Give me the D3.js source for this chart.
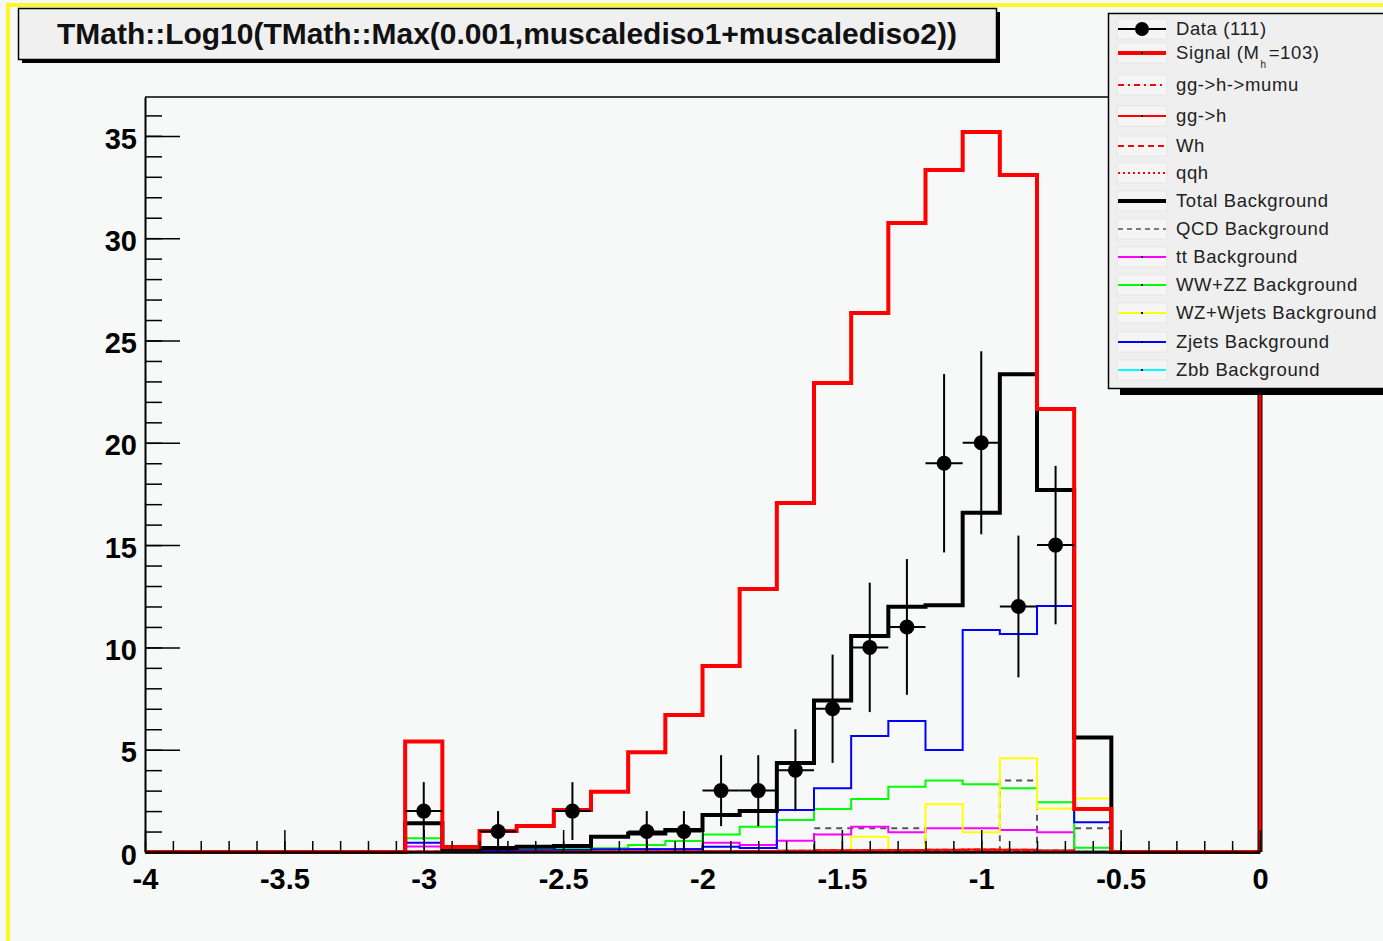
<!DOCTYPE html>
<html>
<head>
<meta charset="utf-8">
<script src="https://cdn.jsdelivr.net/npm/d3@7"></script>
<style>
  body { margin: 0; background: #f6f9f7; }
  svg { display: block; }
</style>
</head>
<body>
<svg id="canvas" width="1383" height="941"></svg>
<script>
// Histogram binning: 30 bins from -4 to 0
const binLow = -4;
const binHigh = 0;
const nBins = 30;

// Observed events per bin
const dataCounts = [0,0,0,0,0,0,0,2,0,1,0,2,0,1,1,3,3,4,7,10,11,19,20,12,15,0,0,0,0,0];

// Signal (Mh = 103)
const signal = [0,0,0,0,0,0,0,5.4,0.25,1.03,1.27,2.05,2.95,4.87,6.7,9.09,12.85,17.06,22.92,26.34,30.74,33.33,35.19,33.09,21.65,2.1,0,0,0,0];

// Signal production modes
const ggHmumu = [0,0,0,0,0,0,0,0.02,0,0,0.01,0.01,0.02,0.02,0.03,0.04,0.05,0.06,0.08,0.09,0.1,0.11,0.12,0.11,0.07,0.01,0,0,0,0];
const ggH     = [0,0,0,0,0,0,0,0.02,0,0,0.01,0.01,0.02,0.02,0.03,0.04,0.05,0.06,0.08,0.09,0.1,0.11,0.12,0.11,0.07,0.01,0,0,0,0];
const wh      = [0,0,0,0,0,0,0,0.01,0,0,0,0.01,0.01,0.01,0.01,0.02,0.02,0.03,0.04,0.04,0.05,0.05,0.06,0.05,0.03,0,0,0,0,0];
const qqh     = [0,0,0,0,0,0,0,0.01,0,0,0,0.01,0.01,0.01,0.01,0.02,0.02,0.03,0.04,0.04,0.05,0.05,0.06,0.05,0.03,0,0,0,0,0];

// Backgrounds
const totalBkg = [0,0,0,0,0,0,0,1.4,0.15,0.2,0.26,0.29,0.75,0.91,1.08,1.81,2.0,4.35,7.4,10.56,11.99,12.06,16.58,23.35,17.69,5.6,0,0,0,0];
const qcdBkg   = [0,0,0,0,0,0,0,0,0,0,0,0,0,0,0,0,0,0,1.16,1.16,1.16,0,0,3.49,0,1.16,0,0,0,0];
const ttBkg    = [0,0,0,0,0,0,0,0.27,0,0.05,0.05,0.08,0.15,0.15,0.15,0.45,0.34,0.55,0.86,1.24,0.96,1.16,1.16,1.08,0.96,0,0,0,0,0];
const wwzzBkg  = [0,0,0,0,0,0,0,0.67,0.05,0.12,0.12,0.18,0.18,0.34,0.54,0.86,1.24,1.56,2.1,2.59,3.19,3.49,3.31,3.11,2.43,0.21,0,0,0,0];
const wzWjBkg  = [0,0,0,0,0,0,0,0,0,0,0,0,0,0,0,0,0,0,0,0.75,0,2.33,0.96,4.58,2.13,2.62,0,0,0,0];
const zjetsBkg = [0,0,0,0,0,0,0,0.45,0.05,0.05,0.08,0.1,0.13,0.13,0.13,0.26,0.2,2.05,3.11,5.67,6.4,4.99,10.85,10.66,12.02,1.45,0,0,0,0];
const zbbBkg   = [0,0,0,0,0,0,0,0.03,0,0,0,0.03,0.04,0.04,0.04,0.05,0.05,0.06,0.06,0.06,0.06,0.07,0.07,0.1,0.06,0.05,0,0,0,0];

// Axis tick labels
const xMajorTicks = [-4, -3.5, -3, -2.5, -2, -1.5, -1, -0.5, 0];
const yMajorTicks = [0, 5, 10, 15, 20, 25, 30, 35];

const titleText = "TMath::Log10(TMath::Max(0.001,muscalediso1+muscalediso2))";

const svg = d3.select("#canvas");
const FONT = "'Liberation Sans', Arial, Helvetica, sans-serif";

const x = d3.scaleLinear().domain([binLow, binHigh]).range([145, 1260]);
const y = d3.scaleLinear().domain([0, 36.9]).range([852, 97]);
const binWidth = (binHigh - binLow) / nBins;
const edges = d3.range(nBins + 1).map(i => binLow + i * binWidth);

// Canvas background and the yellow pad border
svg.append("rect").attr("width", 1383).attr("height", 941).attr("fill", "#f6f9f7");
svg.append("line").attr("x1", 6).attr("x2", 1383).attr("y1", 5).attr("y2", 5)
  .attr("stroke", "#f8f82a").attr("stroke-width", 4);
svg.append("line").attr("x1", 8).attr("x2", 8).attr("y1", 3).attr("y2", 941)
  .attr("stroke", "#f8f82a").attr("stroke-width", 4);

// Histogram outline path (ROOT "HIST" style)
function stepPath(vals) {
  const p = d3.path();
  p.moveTo(x(edges[0]), y(0));
  vals.forEach((v, i) => {
    p.lineTo(x(edges[i]), y(v));
    p.lineTo(x(edges[i + 1]), y(v));
  });
  p.lineTo(x(edges[nBins]), y(0));
  return p.toString();
}

const plot = svg.append("g");

function drawHist(vals, color, width, dash) {
  plot.append("path")
    .attr("d", stepPath(vals))
    .attr("fill", "none")
    .attr("stroke", color)
    .attr("stroke-width", width)
    .attr("stroke-dasharray", dash || null)
    .attr("stroke-linejoin", "miter");
}

drawHist(zbbBkg, "#00ffff", 2);
drawHist(qcdBkg, "#555555", 2, "6,5");
drawHist(ttBkg, "#ff00ff", 2);
drawHist(wwzzBkg, "#00ff00", 2);
drawHist(wzWjBkg, "#ffff00", 2);
drawHist(zjetsBkg, "#0000ff", 2);
drawHist(ggHmumu, "#ff0000", 2, "6,4,2,4");
drawHist(ggH, "#ff0000", 2);
drawHist(wh, "#ff0000", 2, "6,4");
drawHist(qqh, "#ff0000", 2, "2,3");
drawHist(totalBkg, "#000000", 4);
drawHist(signal, "#ff0000", 4);

// Data points with Poisson error bars
const dataPts = dataCounts.map((n, i) => ({ n, i })).filter(d => d.n > 0);
const dg = plot.append("g");
dataPts.forEach(d => {
  const cx = x((edges[d.i] + edges[d.i + 1]) / 2);
  const err = Math.sqrt(d.n);
  dg.append("line").attr("x1", cx).attr("x2", cx)
    .attr("y1", y(d.n - err)).attr("y2", y(d.n + err))
    .attr("stroke", "#000").attr("stroke-width", 2);
  dg.append("line").attr("x1", x(edges[d.i])).attr("x2", x(edges[d.i + 1]))
    .attr("y1", y(d.n)).attr("y2", y(d.n))
    .attr("stroke", "#000").attr("stroke-width", 2);
  dg.append("circle").attr("cx", cx).attr("cy", y(d.n)).attr("r", 7.5).attr("fill", "#000");
});

// Frame
svg.append("line").attr("x1", 145).attr("x2", 1260).attr("y1", 97).attr("y2", 97)
  .attr("stroke", "#000").attr("stroke-width", 1.5);
svg.append("line").attr("x1", 1260).attr("x2", 1260).attr("y1", 97).attr("y2", 852)
  .attr("stroke", "#000").attr("stroke-width", 5);
svg.append("line").attr("x1", 1260).attr("x2", 1260).attr("y1", 97).attr("y2", 852)
  .attr("stroke", "#ff0000").attr("stroke-width", 3);

// X axis: minor ticks every 0.1, major every 0.5
const xMinor = d3.range(0, 41).map(i => binLow + i * 0.1);
const xMinorAxis = d3.axisBottom(x).tickValues(xMinor).tickSizeInner(-11).tickSizeOuter(0).tickFormat("");
const gxm = svg.append("g").attr("transform", "translate(0,852)").call(xMinorAxis);
gxm.select(".domain").remove();
const xAxis = d3.axisBottom(x).tickValues(xMajorTicks).tickSizeInner(-22).tickSizeOuter(0)
  .tickPadding(16).tickFormat(d => String(d));
const gx = svg.append("g").attr("transform", "translate(0,852)").call(xAxis);
gx.select(".domain").attr("stroke-width", 2.5);
[gx, gxm].forEach(g => g.selectAll(".tick line").attr("stroke", "#000").attr("stroke-width", 1.5));
gx.selectAll(".tick text")
  .attr("font-family", FONT).attr("font-weight", "bold").attr("font-size", 29).attr("fill", "#000");

// Y axis: minor ticks every 1, major every 5
const yMinor = d3.range(0, 37);
const yMinorAxis = d3.axisLeft(y).tickValues(yMinor).tickSizeInner(-17).tickSizeOuter(0).tickFormat("");
const gym = svg.append("g").attr("transform", "translate(145,0)").call(yMinorAxis);
gym.select(".domain").remove();
const yAxis = d3.axisLeft(y).tickValues(yMajorTicks).tickSizeInner(-35).tickSizeOuter(0)
  .tickPadding(8).tickFormat(d => String(d));
const gy = svg.append("g").attr("transform", "translate(145,0)").call(yAxis);
gy.select(".domain").attr("stroke-width", 2);
[gy, gym].forEach(g => g.selectAll(".tick line").attr("stroke", "#000").attr("stroke-width", 1.5));
gy.selectAll(".tick text")
  .attr("font-family", FONT).attr("font-weight", "bold").attr("font-size", 29).attr("fill", "#000")
  .attr("dy", "0.42em");

// Title box
svg.append("rect").attr("x", 22).attr("y", 12).attr("width", 978).attr("height", 51).attr("fill", "#000");
svg.append("rect").attr("x", 18.5).attr("y", 8.5).attr("width", 978).attr("height", 51)
  .attr("fill", "#f0f0f0").attr("stroke", "#000").attr("stroke-width", 1.5);
svg.append("text").attr("x", 507).attr("y", 44).attr("text-anchor", "middle")
  .attr("font-family", FONT).attr("font-weight", "bold").attr("font-size", 29)
  .attr("textLength", 900).attr("lengthAdjust", "spacingAndGlyphs")
  .attr("fill", "#111").text(titleText);

// Legend
const legendEntries = [
  { label: "Data (111)", type: "data" },
  { label: "Signal", type: "line", color: "#ff0000", width: 4 },
  { label: "gg->h->mumu", type: "line", color: "#ff0000", width: 2, dash: "6,4,2,4" },
  { label: "gg->h", type: "line", color: "#ff0000", width: 2 },
  { label: "Wh", type: "line", color: "#ff0000", width: 2, dash: "6,4" },
  { label: "qqh", type: "line", color: "#ff0000", width: 2, dash: "2,3" },
  { label: "Total Background", type: "line", color: "#000", width: 4 },
  { label: "QCD Background", type: "line", color: "#555", width: 1.5, dash: "5,4" },
  { label: "tt Background", type: "line", color: "#ff00ff", width: 2 },
  { label: "WW+ZZ Background", type: "line", color: "#00ff00", width: 2 },
  { label: "WZ+Wjets Background", type: "line", color: "#ffff00", width: 2 },
  { label: "Zjets Background", type: "line", color: "#0000ff", width: 2 },
  { label: "Zbb Background", type: "line", color: "#00ffff", width: 2 }
];
const legendRowY = [29, 53, 85, 116, 146, 173, 201, 229, 257, 285, 313, 342, 370];

const lg = svg.append("g");
lg.append("rect").attr("x", 1120).attr("y", 20).attr("width", 300).attr("height", 375).attr("fill", "#000");
lg.append("rect").attr("x", 1108.5).attr("y", 13.5).attr("width", 300).attr("height", 375)
  .attr("fill", "#efefef").attr("stroke", "#000").attr("stroke-width", 1.5);

legendEntries.forEach((e, i) => {
  const cy = legendRowY[i];
  lg.append("rect").attr("x", 1117).attr("y", cy - 10).attr("width", 50).attr("height", 20)
    .attr("fill", "#f5f5f5").attr("stroke", "#e6e6e6").attr("stroke-width", 1);
  if (e.type === "data") {
    lg.append("line").attr("x1", 1118).attr("x2", 1166).attr("y1", cy).attr("y2", cy)
      .attr("stroke", "#000").attr("stroke-width", 2);
    lg.append("circle").attr("cx", 1142).attr("cy", cy).attr("r", 7).attr("fill", "#000");
  } else {
    lg.append("line").attr("x1", 1118).attr("x2", 1166).attr("y1", cy).attr("y2", cy)
      .attr("stroke", e.color).attr("stroke-width", e.width)
      .attr("stroke-dasharray", e.dash || null);
    if (!e.dash) {
      lg.append("rect").attr("x", 1141).attr("y", cy - 1).attr("width", 2).attr("height", 2).attr("fill", "#000");
    }
  }
  const t = lg.append("text").attr("x", 1176).attr("y", cy + 6)
    .attr("font-family", FONT).attr("font-size", 18.5).attr("letter-spacing", 0.6)
    .attr("fill", "#222");
  if (e.label === "Signal") {
    t.append("tspan").text("Signal (M");
    t.append("tspan").attr("font-size", 10).attr("dy", 9).attr("dx", 1).text("h");
    t.append("tspan").attr("dy", -9).attr("dx", 2).text("=103)");
  } else {
    t.text(e.label);
  }
});
</script>
</body>
</html>
